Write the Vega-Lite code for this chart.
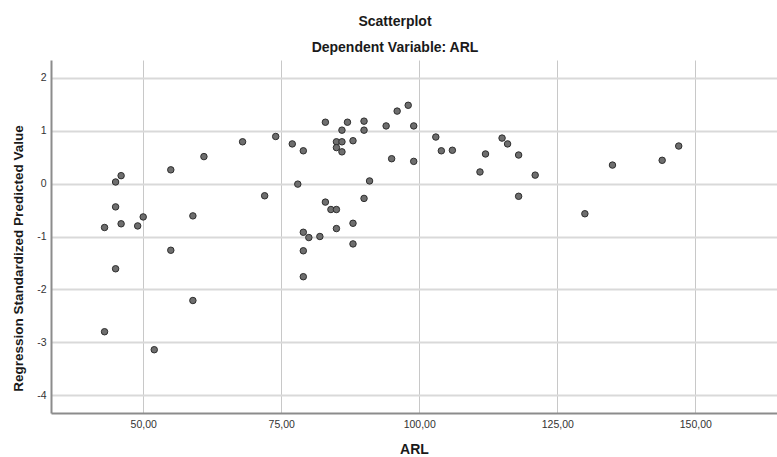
{
  "$schema": "https://vega.github.io/schema/vega-lite/v6.json",
  "width": 726,
  "height": 353,
  "autosize": {"type": "none"},
  "padding": {"left": 51, "top": 60, "right": 0, "bottom": 44},
  "background": "white",
  "title": {
    "text": "Scatterplot",
    "subtitle": "Dependent Variable: ARL",
    "anchor": "middle",
    "dx": -19,
    "font": "Liberation Sans",
    "fontSize": 14,
    "fontWeight": "bold",
    "color": "#1a1a1a",
    "subtitleFont": "Liberation Sans",
    "subtitleFontSize": 14,
    "subtitleFontWeight": "bold",
    "subtitleColor": "#1a1a1a",
    "subtitlePadding": 12,
    "offset": 5
  },
  "config": {
    "view": {"stroke": null},
    "axis": {
      "labelFont": "Liberation Sans",
      "titleFont": "Liberation Sans",
      "labelColor": "#333333",
      "titleColor": "#1a1a1a",
      "ticks": false,
      "domainColor": "#8c8c8c",
      "domainWidth": 2
    }
  },
  "data": {
    "values": [
      {"ARL": 43, "pred": -0.83}, {"ARL": 45, "pred": 0.03}, {"ARL": 46, "pred": 0.15},
      {"ARL": 45, "pred": -0.44}, {"ARL": 46, "pred": -0.76}, {"ARL": 49, "pred": -0.8},
      {"ARL": 50, "pred": -0.63}, {"ARL": 55, "pred": 0.26}, {"ARL": 55, "pred": -1.26},
      {"ARL": 59, "pred": -0.61}, {"ARL": 61, "pred": 0.51}, {"ARL": 68, "pred": 0.79},
      {"ARL": 72, "pred": -0.23}, {"ARL": 74, "pred": 0.89}, {"ARL": 45, "pred": -1.61},
      {"ARL": 59, "pred": -2.21}, {"ARL": 43, "pred": -2.8}, {"ARL": 52, "pred": -3.14},
      {"ARL": 77, "pred": 0.75}, {"ARL": 79, "pred": 0.62}, {"ARL": 78, "pred": -0.01},
      {"ARL": 83, "pred": 1.16}, {"ARL": 87, "pred": 1.16}, {"ARL": 86, "pred": 1.01},
      {"ARL": 90, "pred": 1.18}, {"ARL": 90, "pred": 1.01}, {"ARL": 85, "pred": 0.79},
      {"ARL": 86, "pred": 0.79}, {"ARL": 85, "pred": 0.68}, {"ARL": 86, "pred": 0.6},
      {"ARL": 88, "pred": 0.81}, {"ARL": 94, "pred": 1.09}, {"ARL": 96, "pred": 1.37},
      {"ARL": 98, "pred": 1.48}, {"ARL": 99, "pred": 1.09}, {"ARL": 95, "pred": 0.47},
      {"ARL": 99, "pred": 0.42}, {"ARL": 103, "pred": 0.88}, {"ARL": 104, "pred": 0.62},
      {"ARL": 106, "pred": 0.63}, {"ARL": 112, "pred": 0.56}, {"ARL": 111, "pred": 0.22},
      {"ARL": 91, "pred": 0.05}, {"ARL": 90, "pred": -0.28}, {"ARL": 83, "pred": -0.35},
      {"ARL": 84, "pred": -0.49}, {"ARL": 85, "pred": -0.49}, {"ARL": 88, "pred": -0.75},
      {"ARL": 85, "pred": -0.85}, {"ARL": 79, "pred": -0.92}, {"ARL": 80, "pred": -1.02},
      {"ARL": 82, "pred": -1.0}, {"ARL": 79, "pred": -1.27}, {"ARL": 88, "pred": -1.14},
      {"ARL": 79, "pred": -1.76}, {"ARL": 115, "pred": 0.86}, {"ARL": 116, "pred": 0.75},
      {"ARL": 118, "pred": 0.54}, {"ARL": 121, "pred": 0.16}, {"ARL": 118, "pred": -0.24},
      {"ARL": 130, "pred": -0.57}, {"ARL": 135, "pred": 0.35}, {"ARL": 144, "pred": 0.44},
      {"ARL": 147, "pred": 0.71}
    ]
  },
  "mark": {
    "type": "point",
    "filled": true,
    "size": 42,
    "fill": "#6e6e6e",
    "stroke": "#2e2e2e",
    "strokeWidth": 1,
    "opacity": 1,
    "fillOpacity": 1
  },
  "encoding": {
    "x": {
      "field": "ARL",
      "type": "quantitative",
      "scale": {"domain": [33.3, 164.8], "nice": false, "zero": false},
      "axis": {
        "title": "ARL",
        "titleFontSize": 14,
        "titleFontWeight": "bold",
        "titlePadding": 13,
        "values": [50, 75, 100, 125, 150],
        "labelExpr": "replace(format(datum.value, '.2f'), '.', ',')",
        "labelFontSize": 10.5,
        "labelPadding": 6,
        "gridColor": "#c8c8c8",
        "gridWidth": 1
      }
    },
    "y": {
      "field": "pred",
      "type": "quantitative",
      "scale": {"domain": [-4.336, 2.336], "nice": false, "zero": false},
      "axis": {
        "title": "Regression Standardized Predicted Value",
        "titleFontSize": 13.5,
        "titleFontWeight": "bold",
        "titlePadding": 11,
        "titleY": 198,
        "values": [-4, -3, -2, -1, 0, 1, 2],
        "labelExpr": "datum.value < 0 ? '-' + abs(datum.value) : '' + datum.value",
        "labelFontSize": 10.5,
        "labelPadding": 5,
        "gridColor": "#d9d9d9",
        "gridWidth": 2
      }
    }
  }
}
